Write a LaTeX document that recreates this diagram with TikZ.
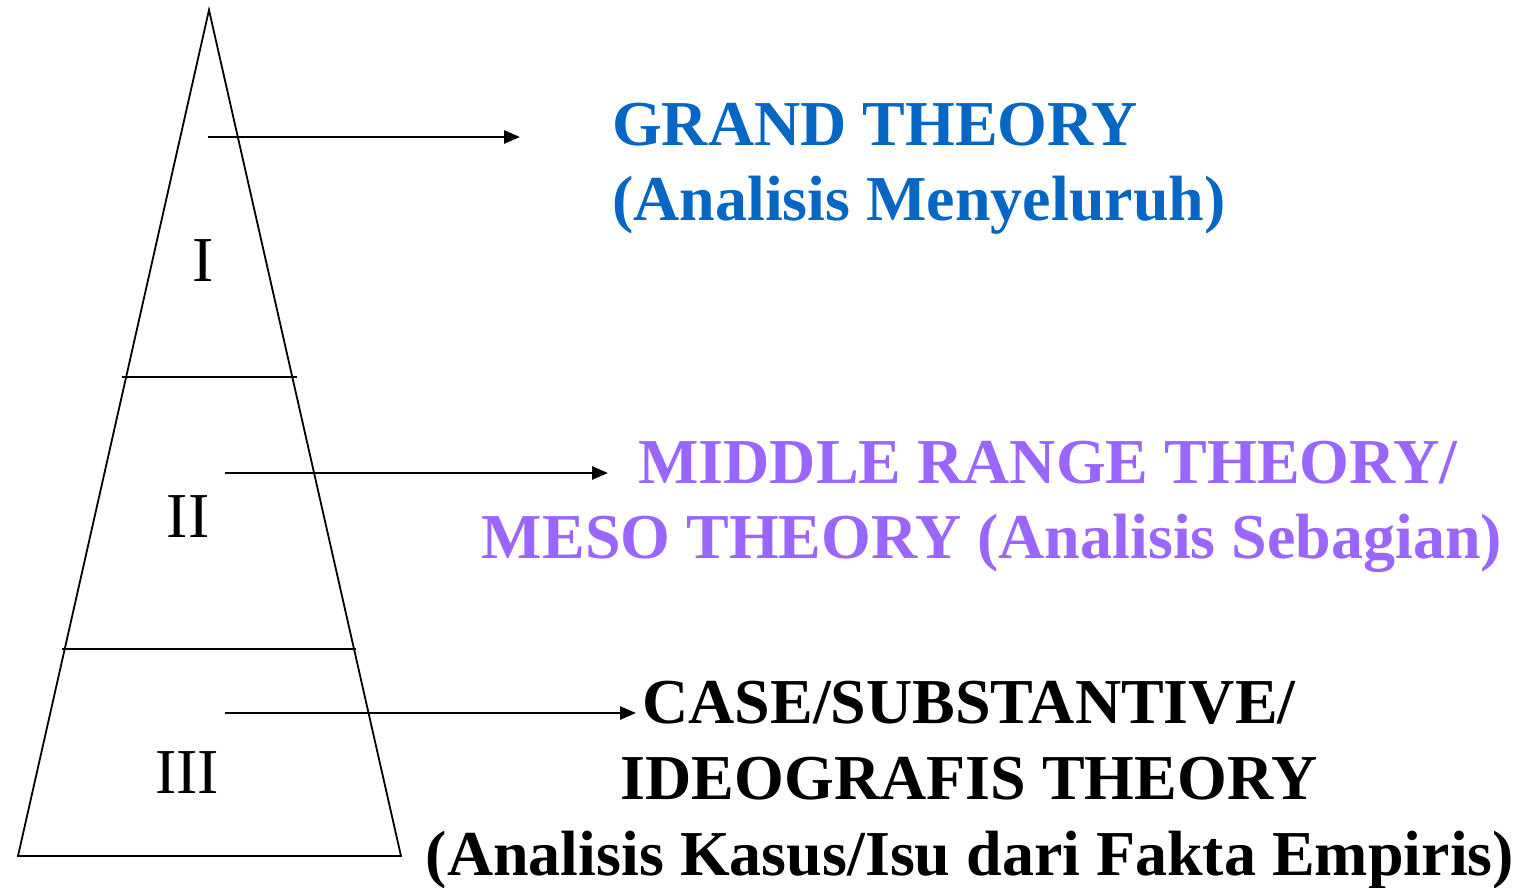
\documentclass[tikz,border=0pt]{standalone}
\usepackage{fontspec}
\setmainfont{Liberation Serif}
\usetikzlibrary{arrows.meta}
\definecolor{grandblue}{RGB}{5,102,196}
\definecolor{mesopurple}{RGB}{153,102,255}
\tikzset{
  edge/.style={line width=1.8pt, line join=miter},
  conn/.style={line width=2.6pt, -{Triangle[length=16pt,width=13pt]}},
  lbl/.style={inner sep=0pt, font=\fontsize{64}{75}\selectfont\bfseries},
  roman/.style={inner sep=0pt, anchor=base, font=\fontsize{64}{75}\selectfont},
}
\begin{document}
\begin{tikzpicture}[x=1pt,y=-1pt]
\useasboundingbox (0,0) rectangle (1519,888);
% pyramid
\coordinate (apex) at (209,10);
\coordinate (bl) at (18,856);
\coordinate (br) at (401,856);
\draw[edge] (apex) -- (br) -- (bl) -- cycle;
\coordinate (d1l) at (122,377);
\coordinate (d1r) at (297,377);
\coordinate (d2l) at (62,649);
\coordinate (d2r) at (356,649);
\draw[edge] (d1l) -- (d1r);
\draw[edge] (d2l) -- (d2r);
% roman numerals
\node[roman] (r1) at (203,281) {I};
\node[roman] (r2) at (188,537) {II};
\node[roman] (r3) at (187,793) {III};
% labels
\node[lbl, anchor=base west, text=grandblue] (g1) at (612,146) {GRAND THEORY};
\node[lbl, anchor=base west, text=grandblue] (g2) at (612,221) {(Analisis Menyeluruh)};
\node[lbl, anchor=base, text=mesopurple] (m1) at (1048,483) {MIDDLE RANGE THEORY/};
\node[lbl, anchor=base, text=mesopurple] (m2) at (992,558) {MESO THEORY (Analisis Sebagian)};
\node[lbl, anchor=base] (c1) at (969,723) {CASE/SUBSTANTIVE/};
\node[lbl, anchor=base] (c2) at (969,799) {IDEOGRAFIS THEORY};
\node[lbl, anchor=base] (c3) at (970,875) {(Analisis Kasus/Isu dari Fakta Empiris)};
% connectors
\coordinate (a1s) at (208,137);
\coordinate (a1e) at (520,137);
\coordinate (a2s) at (225,473);
\coordinate (a2e) at (608,473);
\coordinate (a3s) at (225,713);
\coordinate (a3e) at (636,713);
\draw[conn] (a1s) -- (a1e);
\draw[conn] (a2s) -- (a2e);
\draw[conn] (a3s) -- (a3e);
\end{tikzpicture}
\end{document}
